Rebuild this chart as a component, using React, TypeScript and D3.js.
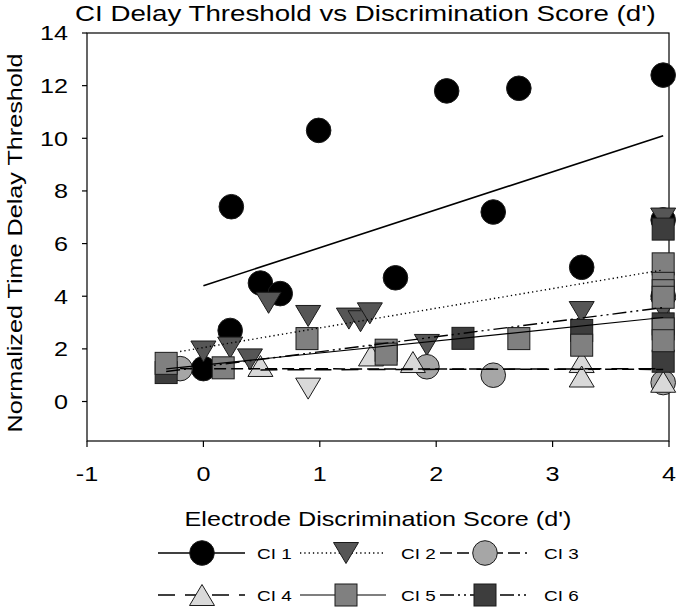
import React from 'react';
import * as d3 from 'd3';

const width = 684;
const height = 608;
const margin = { top: 33, right: 15, bottom: 167, left: 87 };

// axis ticks
const xTicks = [-1, 0, 1, 2, 3, 4];
const yTicks = [0, 2, 4, 6, 8, 10, 12, 14];

// points per subject: [d', normalized threshold]
const ci1Points = [
  [0.24, 7.4], [0.99, 10.3], [2.09, 11.8], [2.71, 11.9], [3.95, 12.4], [2.49, 7.2],
  [1.65, 4.7], [0.49, 4.5], [0.66, 4.1], [0.23, 2.7], [0.0, 1.25], [3.25, 5.1],
  [3.95, 4.0], [3.95, 6.9],
];
const ci2Points = [
  [0.0, 1.9], [0.23, 2.05], [0.4, 1.6], [0.56, 3.75], [0.9, 3.25], [1.25, 3.15],
  [1.35, 3.05], [1.43, 3.35], [1.92, 2.15], [3.25, 3.4], [3.95, 6.95], [3.95, 3.5],
];
const ci3Points = [[-0.2, 1.25], [1.92, 1.32], [2.49, 1.0], [3.95, 0.72]];
const ci4Points = [[0.49, 1.35], [1.44, 1.75], [1.8, 1.5], [3.25, 1.5], [3.25, 0.95], [3.95, 0.75]];
const ci5Points = [
  [-0.32, 1.45], [0.17, 1.28], [0.89, 2.39], [1.57, 1.95], [1.57, 1.8], [2.71, 2.39],
  [3.25, 2.14], [3.95, 5.23], [3.95, 4.49], [3.95, 4.21], [3.95, 3.96], [3.95, 2.76], [3.95, 2.31],
];
const ci6Points = [[-0.32, 1.1], [2.23, 2.4], [3.25, 2.7], [3.95, 6.55], [3.95, 2.95], [3.95, 1.53]];
const extraPoints = [[0.9, 0.49]];

// regression lines: [start, end]
const ci1Fit = [[0.0, 4.4], [3.95, 10.1]];
const ci2Fit = [[-0.2, 1.9], [3.95, 5.0]];
const ci3Fit = [[-0.2, 1.25], [3.95, 1.22]];
const ci4Fit = [[0.49, 1.2], [3.95, 1.25]];
const ci5Fit = [[-0.32, 1.24], [3.95, 3.19]];
const ci6Fit = [[-0.32, 1.14], [3.95, 3.57]];

const seriesNames = ['CI 1', 'CI 2', 'CI 3', 'CI 4', 'CI 5', 'CI 6'];

const series = [
  { name: seriesNames[0], points: ci1Points, fit: ci1Fit, shape: 'circle', fill: '#000000', dash: null, lw: 1.6 },
  { name: seriesNames[1], points: ci2Points, fit: ci2Fit, shape: 'down', fill: '#565656', dash: '1.3 3', lw: 1.4 },
  { name: seriesNames[2], points: ci3Points, fit: ci3Fit, shape: 'circle', fill: '#a6a6a6', dash: '12 5', lw: 1.5 },
  { name: seriesNames[3], points: ci4Points, fit: ci4Fit, shape: 'up', fill: '#d9d9d9', dash: '17 10', lw: 1.5 },
  { name: seriesNames[4], points: ci5Points, fit: ci5Fit, shape: 'square', fill: '#808080', dash: null, lw: 1.1 },
  { name: seriesNames[5], points: ci6Points, fit: ci6Fit, shape: 'square', fill: '#3d3d3d', dash: '14 4 2 4 2 4', lw: 1.4 },
];

// CI 6 sits under CI 5 in the figure
const drawOrder = [0, 1, 2, 3, 5, 4];

const font = "Arial, 'Liberation Sans', sans-serif";
const wide = 1.26; // the original lettering is wider than Arial

const x = d3.scaleLinear().domain([-1, 4]).range([margin.left, width - margin.right]);
const y = d3.scaleLinear().domain([-1.5, 14]).range([height - margin.bottom, margin.top]);

const Marker = ({ shape, fill, cx, cy }: { shape: string; fill: string; cx: number; cy: number }) => {
  const stroke = '#1a1a1a';
  if (shape === 'circle') {
    return <circle cx={cx} cy={cy} r={12.3} fill={fill} stroke={stroke} strokeWidth={1} />;
  }
  if (shape === 'square') {
    return <rect x={cx - 11} y={cy - 11} width={22} height={22} fill={fill} stroke={stroke} strokeWidth={1} />;
  }
  const w = 12.5;
  const h = 10.5;
  const p = d3.path();
  if (shape === 'down') {
    p.moveTo(cx - w, cy - h);
    p.lineTo(cx + w, cy - h);
    p.lineTo(cx, cy + h);
  } else {
    p.moveTo(cx - w, cy + h);
    p.lineTo(cx + w, cy + h);
    p.lineTo(cx, cy - h);
  }
  p.closePath();
  return <path d={p.toString()} fill={fill} stroke={stroke} strokeWidth={1} strokeLinejoin="miter" />;
};

// text placed at (tx, ty), widened horizontally
const Label = ({ tx, ty, size, anchor = 'start', rot = 0, children }: any) => (
  <g transform={`translate(${tx},${ty}) rotate(${rot}) scale(${wide},1)`}>
    <text x={0} y={0} textAnchor={anchor} fontFamily={font} fontSize={size}>{children}</text>
  </g>
);

const line = d3.line<number[]>().x(d => x(d[0])).y(d => y(d[1]));

// legend layout
const legendCols = [
  { x0: 158, x1: 245, mx: 202, tx: 257 },
  { x0: 300, x1: 386, mx: 346, tx: 401 },
  { x0: 440, x1: 527, mx: 485, tx: 544 },
];
const legendRows = [553, 595];

const App = () => {
  const [x0, x1] = x.range();
  const [yb, yt] = y.range();

  return (
    <svg width={width} height={height} style={{ position: 'absolute', left: 0, top: 0, background: '#fff' }}>
      <Label tx={75} ty={21} size={22}>CI Delay Threshold vs Discrimination Score (d')</Label>

      {/* frame */}
      <rect x={x0} y={yt} width={x1 - x0} height={yb - yt} fill="none" stroke="#000" strokeWidth={1.2} />

      {/* y axis */}
      {yTicks.map(t => (
        <g key={'y' + t}>
          <line x1={x0 - 5} x2={x0} y1={y(t)} y2={y(t)} stroke="#000" strokeWidth={1.2} />
          <Label tx={x0 - 19} ty={y(t) + 7.3} size={20} anchor="end">{t}</Label>
        </g>
      ))}
      {/* x axis */}
      {xTicks.map(t => (
        <g key={'x' + t}>
          <line x1={x(t)} x2={x(t)} y1={yb} y2={yb + 6} stroke="#000" strokeWidth={1.2} />
          <Label tx={x(t)} ty={yb + 40} size={20} anchor="middle">{t}</Label>
        </g>
      ))}

      <Label tx={22} ty={243} size={20} anchor="middle" rot={-90}>Normalized Time Delay Threshold</Label>
      <Label tx={(x0 + x1) / 2} ty={526} size={20} anchor="middle">Electrode Discrimination Score (d')</Label>

      {/* points */}
      {drawOrder.map(i => (
        <g key={'s' + i}>
          {series[i].points.map((d, j) => (
            <Marker key={j} shape={series[i].shape} fill={series[i].fill} cx={x(d[0])} cy={y(d[1])} />
          ))}
        </g>
      ))}
      {extraPoints.map((d, j) => (
        <Marker key={'e' + j} shape="down" fill="#d9d9d9" cx={x(d[0])} cy={y(d[1])} />
      ))}

      {/* regression lines */}
      {series.map((s, i) => (
        <path key={'f' + i} d={line(s.fit) || ''} fill="none" stroke="#000" strokeWidth={s.lw}
          strokeDasharray={s.dash || undefined} />
      ))}

      {/* legend */}
      {series.map((s, i) => {
        const c = legendCols[i % 3];
        const ly = legendRows[Math.floor(i / 3)];
        return (
          <g key={'l' + i}>
            <line x1={c.x0} x2={c.x1} y1={ly} y2={ly} stroke="#000" strokeWidth={s.lw}
              strokeDasharray={s.dash || undefined} />
            <Marker shape={s.shape} fill={s.fill} cx={c.mx} cy={ly} />
            <Label tx={c.tx} ty={ly + 5.5} size={15}>{s.name}</Label>
          </g>
        );
      })}
    </svg>
  );
};

export default App;
